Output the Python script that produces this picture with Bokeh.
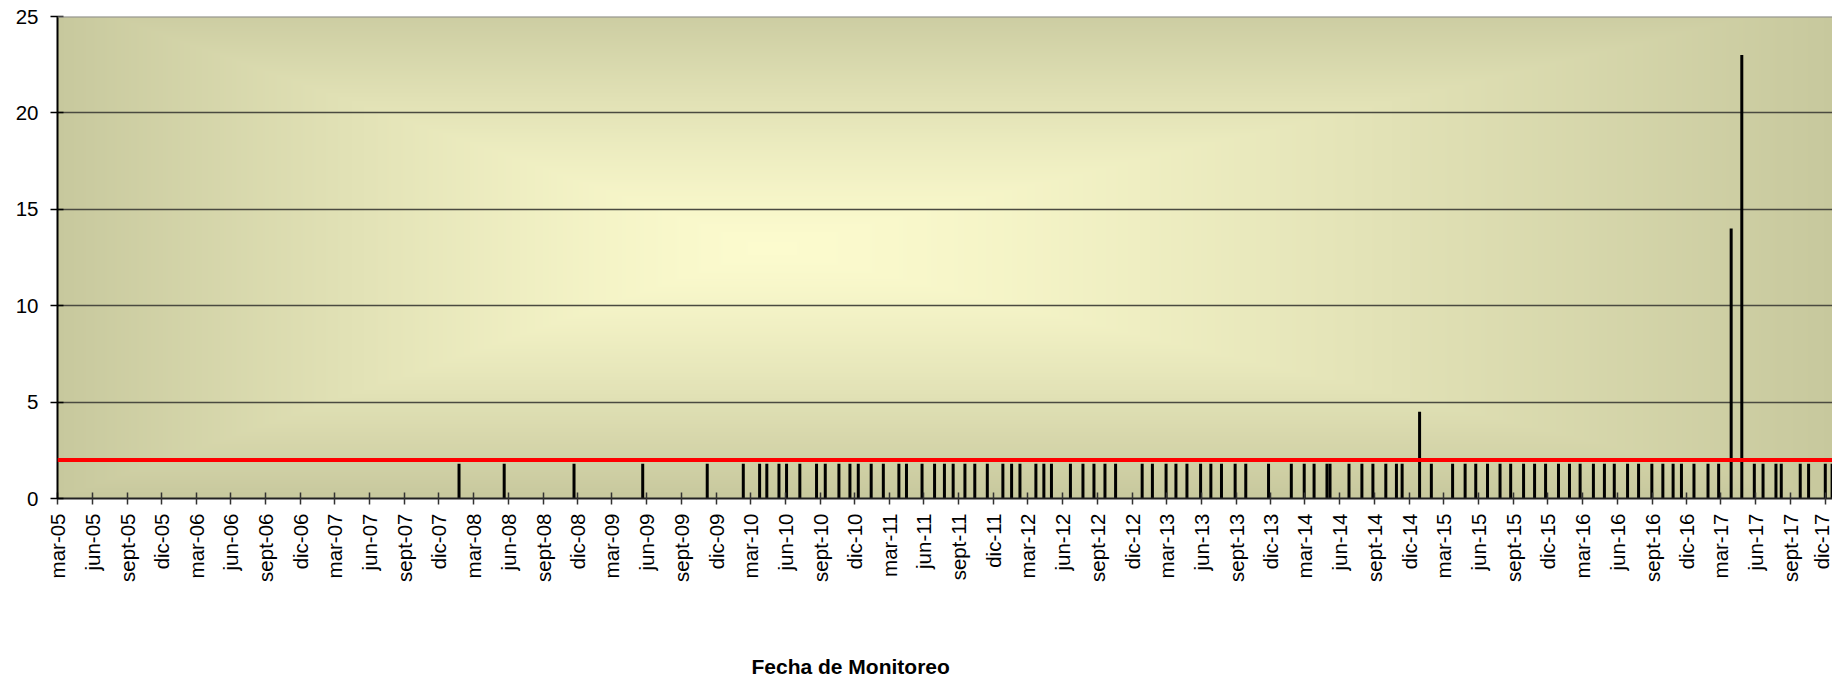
import numpy as np
import pandas as pd
from bokeh.plotting import figure
from bokeh.models import Range1d, FixedTicker, Span, Title
from bokeh.embed import file_html
from bokeh.resources import INLINE

# ---------------- data ----------------
sample_dates = [
    "2008-01-23", "2008-05-21", "2008-11-21",
    "2009-05-21", "2009-11-07",
    "2010-02-10", "2010-03-25", "2010-04-13", "2010-05-15", "2010-06-04", "2010-07-09",
    "2010-08-22", "2010-09-14", "2010-10-20", "2010-11-18", "2010-12-10",
    "2011-01-13", "2011-02-14", "2011-03-27", "2011-04-16", "2011-05-27", "2011-06-29",
    "2011-07-25", "2011-08-17", "2011-09-17", "2011-10-13", "2011-11-15", "2011-12-26",
    "2012-01-18", "2012-02-09", "2012-03-22", "2012-04-12", "2012-05-02", "2012-06-21",
    "2012-07-24", "2012-08-22", "2012-09-20", "2012-10-18", "2012-12-27",
    "2013-01-23", "2013-02-28", "2013-03-26", "2013-04-24", "2013-05-30", "2013-06-26",
    "2013-07-24", "2013-08-29", "2013-09-26", "2013-11-25",
    "2014-01-24", "2014-02-27", "2014-03-25", "2014-04-28", "2014-05-06", "2014-06-25",
    "2014-07-29", "2014-08-27", "2014-09-30", "2014-10-28", "2014-11-12", "2014-12-28",
    "2015-01-28", "2015-03-25", "2015-04-27", "2015-05-25", "2015-06-25", "2015-07-28",
    "2015-08-25", "2015-09-28", "2015-10-27", "2015-11-25", "2015-12-29",
    "2016-01-27", "2016-02-24", "2016-03-30", "2016-04-28", "2016-05-24", "2016-06-28",
    "2016-07-27", "2016-08-31", "2016-09-29", "2016-10-26", "2016-11-17", "2016-12-20",
    "2017-01-26", "2017-02-23", "2017-03-28", "2017-04-25", "2017-05-28", "2017-06-20",
    "2017-07-24", "2017-08-07", "2017-09-26", "2017-10-18", "2017-12-01", "2017-12-19",
]
concentration = [
    1.8, 1.8, 1.8,
    1.8, 1.8,
    1.8, 1.8, 1.8, 1.8, 1.8, 1.8,
    1.8, 1.8, 1.8, 1.8, 1.8,
    1.8, 1.8, 1.8, 1.8, 1.8, 1.8,
    1.8, 1.8, 1.8, 1.8, 1.8, 1.8,
    1.8, 1.8, 1.8, 1.8, 1.8, 1.8,
    1.8, 1.8, 1.8, 1.8, 1.8,
    1.8, 1.8, 1.8, 1.8, 1.8, 1.8,
    1.8, 1.8, 1.8, 1.8,
    1.8, 1.8, 1.8, 1.8, 1.8, 1.8,
    1.8, 1.8, 1.8, 1.8, 1.8, 4.5,
    1.8, 1.8, 1.8, 1.8, 1.8, 1.8,
    1.8, 1.8, 1.8, 1.8, 1.8,
    1.8, 1.8, 1.8, 1.8, 1.8, 1.8,
    1.8, 1.8, 1.8, 1.8, 1.8, 1.8,
    1.8, 1.8, 14.0, 23.0, 1.8, 1.8,
    1.8, 1.8, 1.8, 1.8, 1.8, 1.8,
]
limit_value = 2.0

tick_months = ["mar", "jun", "sept", "dic"]
tick_month_numbers = [3, 6, 9, 12]
tick_years = list(range(2005, 2018))
x_start = "2005-03-01"
x_end = "2017-12-20"
y_min, y_max = 0, 25
y_ticks = [0, 5, 10, 15, 20, 25]
y_grid = [5, 10, 15, 20]
axis_title = "Fecha de Monitoreo"


def to_ms(d):
    return int(pd.Timestamp(d).value // 10**6)


x0, x1 = to_ms(x_start), to_ms(x_end)
date_ms = [to_ms(d) for d in sample_dates]

tick_vals, tick_text = [], []
for yr in tick_years:
    for name, mnum in zip(tick_months, tick_month_numbers):
        ms = to_ms(pd.Timestamp(year=yr, month=mnum, day=1))
        if x0 <= ms <= x1:
            tick_vals.append(ms)
            tick_text.append(f"{name}-{yr % 100:02d}")

# ---------------- figure ----------------
p = figure(width=1832, height=679, output_backend="svg", toolbar_location=None,
           x_range=Range1d(x0, x1), y_range=Range1d(y_min, y_max),
           min_border_left=57, min_border_right=0, min_border_top=16,
           min_border_bottom=179)
p.outline_line_color = None
p.border_fill_color = "white"

# gradient background (style only)
nx, ny = 900, 242
u = (np.arange(nx) + 0.5) / nx
v = (np.arange(ny) + 0.5) / ny
U, V = np.meshgrid(u, v)
vt = 1.0 - V
u0, v0 = 0.40, 0.48
tx = np.where(U < u0, (u0 - U) / u0, (U - u0) / (1.0 - u0))
ty = np.abs(vt - v0) / max(v0, 1 - v0)
t = np.clip(np.maximum(tx, ty), 0, 1) ** 1.3
c_center = np.array([252, 251, 206], dtype=float)
c_edge = np.array([199, 200, 157], dtype=float)
rgb = c_center + (c_edge - c_center) * t[..., None]
img = np.zeros((ny, nx), dtype=np.uint32)
view = img.view(dtype=np.uint8).reshape((ny, nx, 4))
view[..., 0:3] = np.round(rgb).astype(np.uint8)
view[..., 3] = 255
bg = p.image_rgba(image=[img], x=x0, y=y_min, dw=x1 - x0, dh=y_max - y_min)
bg.level = "image"

# grid
p.xgrid.visible = False
p.ygrid.ticker = FixedTicker(ticks=y_grid)
p.ygrid.grid_line_color = "#4a4a40"
p.ygrid.grid_line_width = 1.6

# bars
p.segment(x0=date_ms, y0=[0] * len(date_ms), x1=date_ms, y1=concentration,
          line_color="black", line_width=3)

# top border and limit line
p.add_layout(Span(location=y_max, dimension="width", line_color="#8C8C8C", line_width=2))
p.add_layout(Span(location=limit_value, dimension="width", line_color="#FF0000", line_width=4))

# axes
font = "Liberation Sans"
p.yaxis.ticker = FixedTicker(ticks=y_ticks)
p.yaxis.major_label_text_font = font
p.yaxis.major_label_text_font_size = "20.5px"
p.yaxis.major_label_text_color = "black"
p.yaxis.major_tick_in = 6
p.yaxis.major_tick_out = 7
p.yaxis.major_tick_line_color = "black"
p.yaxis.major_tick_line_width = 1.5
p.yaxis.minor_tick_line_color = None
p.yaxis.axis_line_color = "black"
p.yaxis.axis_line_width = 2
p.yaxis.major_label_standoff = 12

p.xaxis.ticker = FixedTicker(ticks=tick_vals)
p.xaxis.major_label_overrides = dict(zip(tick_vals, tick_text))
p.xaxis.major_label_orientation = np.pi / 2
p.xaxis.major_label_text_font = font
p.xaxis.major_label_text_font_size = "20.5px"
p.xaxis.major_label_text_color = "black"
p.xaxis.major_tick_in = 6
p.xaxis.major_tick_out = 6
p.xaxis.major_tick_line_color = "#333333"
p.xaxis.major_tick_line_width = 1.5
p.xaxis.minor_tick_line_color = None
p.xaxis.axis_line_color = "#222222"
p.xaxis.axis_line_width = 2
p.xaxis.major_label_standoff = 9

# axis title below the tick labels (padding pushes the text down without
# enlarging the panel)
p.add_layout(Title(text=axis_title, align="left", offset=694, standoff=0,
                   vertical_align="top",
                   padding={"left": 0, "right": 0, "top": 70, "bottom": 0},
                   text_font=font, text_font_style="bold", text_font_size="21px",
                   text_color="black"), "below")

open("out.html", "w").write(file_html(p, INLINE))
